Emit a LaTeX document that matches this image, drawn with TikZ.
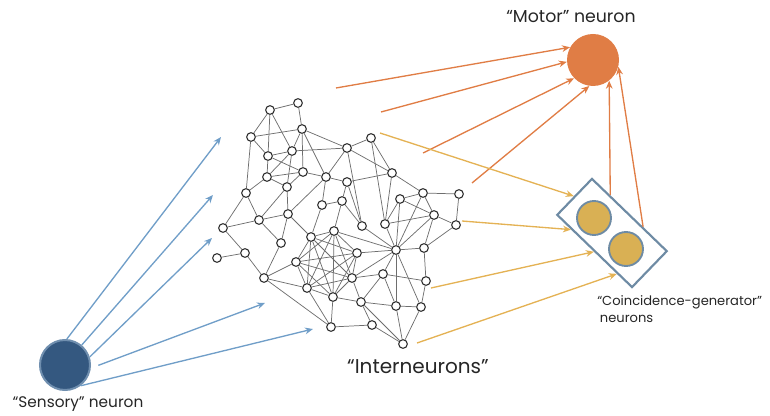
\documentclass[tikz,border=0pt]{standalone}
\usepackage{fontspec}
\setmainfont{Poppins}
\usepackage{tikz}
\usetikzlibrary{arrows.meta,calc}
\definecolor{snsblue}{RGB}{52,88,128}
\definecolor{snsrim}{RGB}{112,143,175}
\definecolor{motorange}{RGB}{224,125,69}
\definecolor{cggold}{RGB}{217,176,84}
\definecolor{boxblue}{RGB}{110,139,164}
\definecolor{arrblue}{RGB}{112,158,200}
\definecolor{arrgold}{RGB}{228,178,84}
\definecolor{lnkgray}{RGB}{110,110,110}

\begin{document}
\begin{tikzpicture}[x=0.75pt,y=-0.75pt,
  nrn/.style={circle,draw=black!80,fill=white,line width=0.85pt,inner sep=0pt,minimum size=6.5pt},
  lnk/.style={lnkgray,line width=0.55pt},
  sarr/.style={-{Stealth[length=6pt,width=5pt]},arrblue,line width=1pt},
  marr/.style={-{Stealth[length=6pt,width=5pt]},motorange,line width=1pt},
  garr/.style={-{Stealth[length=6pt,width=5pt]},arrgold,line width=1pt},
  lbl/.style={font=\fontsize{11.5}{13}\selectfont,text=black!85}]
\useasboundingbox (0,0) rectangle (770,416);
\foreach \n/\x/\y in {1/270/110,2/298/103,3/251/137,4/302/129,5/268/156,6/292/151,7/303/172,8/267/177,
  9/287/187,10/326/177,11/246/193,12/322/205,13/288/214,14/259/220,15/371/138,16/347/148,
  17/392/173,18/347/182,19/342/201,20/423/193,21/459/194,22/400/199,23/434/215,24/385/224,
  25/362/226,26/456/225,27/223/228,28/281/243,29/245/253,30/217/258,31/311/237,32/334/231,
  33/296/262,34/264/278,35/307/288,36/333/297,37/331/327,38/357/253,39/396/250,40/424/248,
  41/352/278,42/383/274,43/426/281,44/361/302,45/396/306,46/421/307,47/372/325,48/403/344}
  \node[nrn] (n\n) at (\x,\y) {};
\foreach \u/\v in {1/2,2/4,1/3,1/5,1/6,3/4,3/5,3/11,4/6,4/7,4/10,4/16,5/6,5/8,5/7,6/8,6/9,6/16,
  7/8,7/9,8/9,7/10,8/11,9/13,10/13,10/12,10/16,10/18,11/14,11/27,9/14,13/14,14/27,14/28,13/28,
  13/31,12/31,12/19,18/19,19/32,19/25,15/16,15/17,16/17,15/24,16/25,17/18,17/20,17/24,18/25,
  20/21,20/22,20/23,21/26,22/23,22/24,22/39,23/26,23/24,23/39,23/40,26/40,20/39,24/39,25/39,
  27/29,29/30,29/34,28/34,33/34,34/35,34/37,
  31/32,31/33,31/35,31/36,31/38,31/41,32/33,32/35,32/36,32/38,32/41,33/35,33/36,33/38,33/41,
  35/36,35/38,35/41,36/38,36/41,38/41,
  32/39,38/39,41/39,42/39,45/39,46/39,40/39,40/43,43/46,43/42,42/41,42/44,42/45,44/45,44/47,
  44/48,45/46,45/48,46/48,47/48,47/37,36/37,35/37,41/44,36/44}
  \draw[lnk] (n\u)--(n\v);
\node[circle,fill=snsblue,draw=snsrim,line width=1.5pt,minimum size=37.5pt,inner sep=0pt] (sns) at (65,365) {};
\node[circle,fill=motorange,minimum size=39pt,inner sep=0pt] (mot) at (593,60) {};
\node[draw=boxblue,fill=white,line width=1.6pt,minimum width=78pt,minimum height=37.5pt,rotate=-44] (box) at (612,233) {};
\node[circle,fill=cggold,draw=boxblue,line width=1.4pt,minimum size=25.5pt,inner sep=0pt] (cg1) at (594,218) {};
\node[circle,fill=cggold,draw=boxblue,line width=1.4pt,minimum size=25.5pt,inner sep=0pt] (cg2) at (626,249) {};
\coordinate (b1) at (221,137); \coordinate (b2) at (213,195); \coordinate (b3) at (212,238);
\coordinate (b4) at (265,303); \coordinate (b5) at (313,329);
\draw[sarr] (sns.86)--(b1);
\draw[sarr] (sns.50)--(b2);
\draw[sarr] (sns.18)--(b3);
\draw[sarr,shorten <=6pt] (sns.-7)--(b4);
\draw[sarr] (sns.-53)--(b5);
\coordinate (o1) at (336,88); \coordinate (o2) at (381,112); \coordinate (o3) at (423,153); \coordinate (o4) at (472,183);
\draw[marr] (o1)--(mot.151);
\draw[marr] (o2)--(mot.184);
\draw[marr] (o3)--(mot.224);
\draw[marr] (o4)--(mot.262);
\draw[marr] ($(box.north west)!0.24!(box.north east)$)--(mot.308);
\draw[marr] ($(box.north west)!0.67!(box.north east)$)--(mot.345);
\coordinate (g1) at (380,133); \coordinate (g2) at (462,221); \coordinate (g3) at (431,288); \coordinate (g4) at (417,343);
\draw[garr] (g1)--(box.west);
\draw[garr] (g2)--($(box.south west)!0.2!(box.south east)$);
\draw[garr] (g3)--(box.south);
\draw[garr] (g4)--($(box.south west)!0.8!(box.south east)$);
\node[lbl,font=\fontsize{13}{15}\selectfont] (motlbl) at (571,17) {“Motor” neuron};
\node[lbl] (snslbl) at (78,404) {“Sensory” neuron};
\node[lbl,font=\fontsize{15}{17}\selectfont] (intlbl) at (418,367) {“Interneurons”};
\node[lbl,font=\fontsize{9.8}{12.75}\selectfont,align=left,anchor=north west,inner sep=0pt] (cglbl) at (597,295) {“Coincidence-generator”\\\hspace*{2pt}neurons};
\end{tikzpicture}
\end{document}
